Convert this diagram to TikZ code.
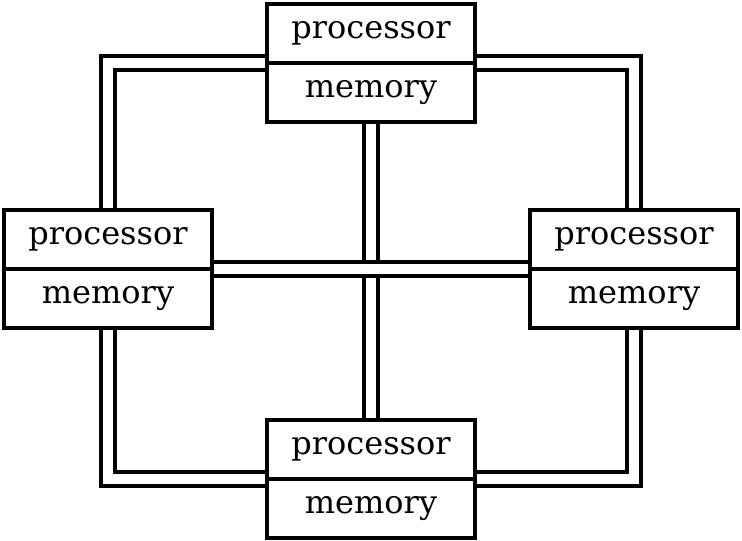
\documentclass[tikz,border=0pt]{standalone}
\usepackage{fontspec}
\setmainfont{DejaVu Serif}
\usetikzlibrary{positioning,backgrounds}
\begin{document}
\begin{tikzpicture}[x=1pt,y=-1pt,
    cell/.style={draw,line width=4pt,fill=white,outer sep=0pt,inner sep=0pt,
      minimum width=208pt,minimum height=59pt,
      font=\fontsize{32}{38}\selectfont},
    bus/.style={line width=4pt,double=white,double distance=10pt}]
  \useasboundingbox (0,0) rectangle (742,541);
  % the four boxes
  \node[cell] (tproc) at (371,33.5) {processor};
  \node[cell,below=0pt of tproc] (tmem) {memory};
  \node[cell] (lproc) at (108,239.5) {processor};
  \node[cell,below=0pt of lproc] (lmem) {memory};
  \node[cell] (rproc) at (634,239.5) {processor};
  \node[cell,below=0pt of rproc] (rmem) {memory};
  \node[cell] (bproc) at (371,449.5) {processor};
  \node[cell,below=0pt of bproc] (bmem) {memory};
  % links, under the boxes
  \begin{pgfonlayer}{background}
    \draw[bus] (tproc.south west) -| (lproc.north);
    \draw[bus] (tproc.south east) -| (rproc.north);
    \draw[bus] (lmem.south) |- (bproc.south west);
    \draw[bus] (rmem.south) |- (bproc.south east);
    \draw[bus] (tmem.south) -- (bproc.north);
    \draw[bus] (lproc.south east) -- (rproc.south west);
  \end{pgfonlayer}
\end{tikzpicture}
\end{document}
